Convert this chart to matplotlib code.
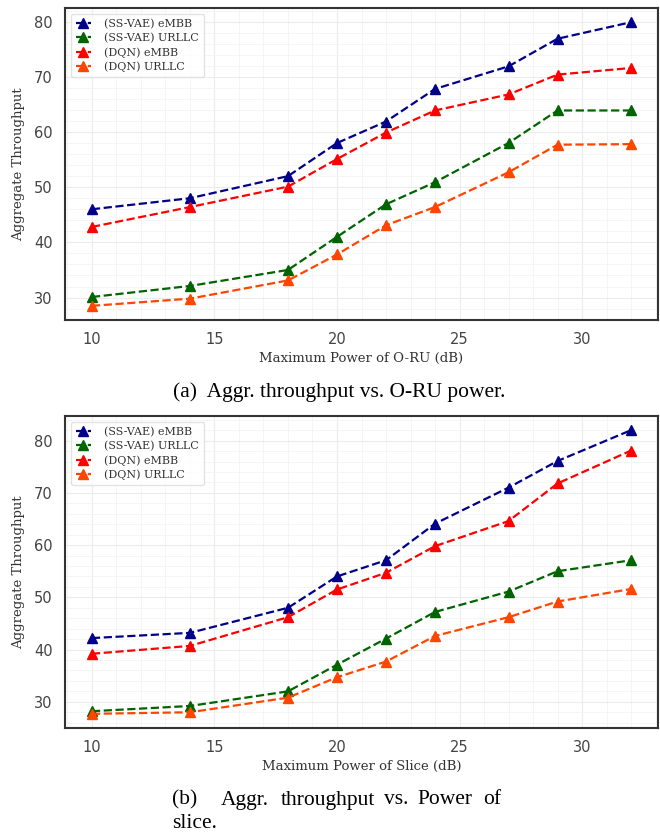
import numpy as np
import matplotlib.pyplot as plt

# data
power = [10, 14, 18, 20, 22, 24, 27, 29, 32]

# (a) O-RU power
oru_vae_embb = [46.0, 48.0, 52.0, 58.0, 61.9, 67.8, 71.9, 76.9, 79.9]
oru_vae_urllc = [30.1, 32.1, 35.0, 41.0, 46.9, 50.9, 58.0, 63.9, 63.9]
oru_dqn_embb = [42.8, 46.4, 50.1, 55.1, 59.9, 63.9, 66.8, 70.4, 71.6]
oru_dqn_urllc = [28.5, 29.8, 33.1, 37.8, 43.1, 46.4, 52.7, 57.7, 57.8]

# (b) slice power
sl_vae_embb = [42.2, 43.2, 48.0, 54.0, 57.1, 64.1, 71.0, 76.1, 82.0]
sl_vae_urllc = [28.2, 29.2, 32.0, 37.1, 42.1, 47.2, 51.1, 55.0, 57.1]
sl_dqn_embb = [39.2, 40.7, 46.2, 51.5, 54.7, 59.8, 64.6, 71.8, 78.1]
sl_dqn_urllc = [27.7, 28.0, 30.8, 34.7, 37.7, 42.6, 46.2, 49.2, 51.6]

labels = ['(SS-VAE) eMBB', '(SS-VAE) URLLC', '(DQN) eMBB', '(DQN) URLLC']
colors = ['#00008B', '#006400', '#FF0000', '#FF4500']

plt.rcParams['font.family'] = ['DejaVu Sans']

fig = plt.figure(figsize=(6.6, 8.33), dpi=100)
ax1 = fig.add_axes([65/660, 1 - 320/833, 593/660, 312/833])
ax2 = fig.add_axes([65/660, 1 - 728/833, 593/660, 312/833])


def draw(ax, series, xlabel):
    for ys, lab, c in zip(series, labels, colors):
        ax.plot(power, ys, linestyle='--', marker='^', color=c, label=lab,
                linewidth=1.6, markersize=6.5)
    ax.set_xlabel(xlabel, fontsize=9.5, color='#333333', labelpad=3,
                  family='DejaVu Serif')
    ax.set_ylabel('Aggregate Throughput', fontsize=9.5, color='#333333',
                  labelpad=6, family='DejaVu Serif')
    ax.set_xticks([10, 15, 20, 25, 30])
    ax.set_yticks([30, 40, 50, 60, 70, 80])
    ax.minorticks_on()
    ax.grid(which='major', color='#ececec', linewidth=0.8)
    ax.grid(which='minor', color='#f4f4f4', linewidth=0.6)
    ax.set_axisbelow(True)
    ax.tick_params(which='both', length=0, labelsize=10.5, labelcolor='#444444', pad=9)
    for s in ax.spines.values():
        s.set_color('#333333')
        s.set_linewidth(1.5)
    leg = ax.legend(loc='upper left', handlelength=1.4,
                    borderpad=0.45, labelspacing=0.35, handletextpad=1.2,
                    prop={'family': 'DejaVu Serif', 'size': 8})
    leg.get_frame().set_edgecolor('#dddddd')
    for t in leg.get_texts():
        t.set_color('#333333')


draw(ax1, [oru_vae_embb, oru_vae_urllc, oru_dqn_embb, oru_dqn_urllc],
     'Maximum Power of O-RU (dB)')
draw(ax2, [sl_vae_embb, sl_vae_urllc, sl_dqn_embb, sl_dqn_urllc],
     'Maximum Power of Slice (dB)')

cap = dict(family='Liberation Serif', fontsize=15.5, color='black', va='center')
fig.text(339/660, 1 - 392/833, '(a)  Aggr. throughput vs. O-RU power.', ha='center', **cap)
words_b = ['(b)', 'Aggr.', 'throughput', 'vs.', 'Power', 'of']
words_x = [172, 221, 281, 384, 417, 483]
for w, xw in zip(words_b, words_x):
    fig.text(xw/660, 1 - 800/833, w, ha='left', **cap)
fig.text(172/660, 1 - 823/833, 'slice.', ha='left', **cap)

fig.savefig('out.png', dpi=100)
